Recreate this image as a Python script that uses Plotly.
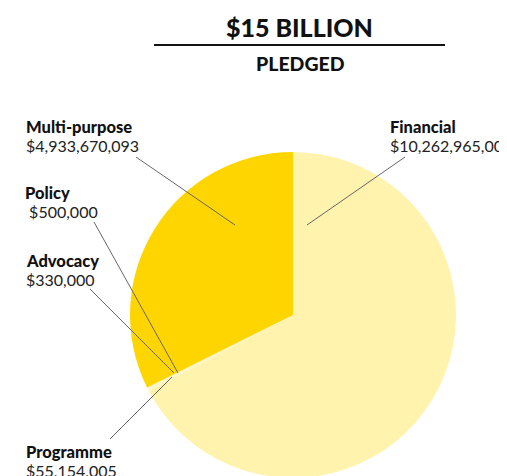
import plotly.graph_objects as go

W, H = 507, 476
OFF = 8  # page body margin

labels = ['Financial', 'Programme', 'Advocacy', 'Policy', 'Multi-purpose']
values = [10262965000, 55154005, 330000, 500000, 4933670093]
value_text = ['$10,262,965,000', '$55,154,005', '$330,000', ' $500,000', '$4,933,670,093']
colors = ['#FFF3AE', '#FFF6C4', '#FFE680', '#FFDD40', '#FFD500']

# label block positions (window pixels, name line centre) and leader lines
label_pos = {
    'Financial': (391, 127),
    'Programme': (27, 452),
    'Advocacy': (27, 261),
    'Policy': (26, 193),
    'Multi-purpose': (27, 127),
}
leaders = {
    'Financial': ((405, 157), (307, 225)),
    'Programme': ((110, 439), (172, 377)),
    'Advocacy': ((90, 289), (174, 373)),
    'Policy': ((94, 222), (178, 373)),
    'Multi-purpose': ((136, 157), (235, 225)),
}


def px(x):
    return (x - OFF) / W


def py(y):
    return 1 - (y - OFF) / H


fig = go.Figure(go.Pie(
    labels=labels,
    values=values,
    sort=False,
    direction='clockwise',
    rotation=0,
    marker=dict(colors=colors, line=dict(width=0)),
    textinfo='none',
    hoverinfo='label+value',
    showlegend=False,
    domain=dict(x=[px(130), px(456)], y=[py(478), py(152)]),
))

annotations = [
    dict(text='$15 BILLION', x=px(299), y=py(27), xref='paper', yref='paper',
         showarrow=False, xanchor='center', yanchor='middle',
         font=dict(family='Lato', size=25, color='#111111', weight=900)),
    dict(text='PLEDGED', x=px(300), y=py(63), xref='paper', yref='paper',
         showarrow=False, xanchor='center', yanchor='middle',
         font=dict(family='Lato', size=19.5, color='#111111', weight=900)),
]
for i, name in enumerate(labels):
    lx, ly = label_pos[name]
    annotations.append(dict(
        text=name, x=px(lx), y=py(ly), xref='paper', yref='paper',
        showarrow=False, xanchor='left', yanchor='middle', xshift=-3,
        font=dict(family='Lato', size=16.5, color='#111111', weight=900)))
    annotations.append(dict(
        text=value_text[i], x=px(lx), y=py(ly + 18), xref='paper', yref='paper',
        showarrow=False, xanchor='left', yanchor='middle', xshift=-3,
        font=dict(family='Lato', size=16, color='#222222', weight=400)))

shapes = [dict(type='line', xref='paper', yref='paper',
               x0=px(154), x1=px(445), y0=py(45), y1=py(45),
               line=dict(color='#111111', width=2))]
for name, ((x0, y0), (x1, y1)) in leaders.items():
    shapes.append(dict(type='line', xref='paper', yref='paper',
                       x0=px(x0), y0=py(y0), x1=px(x1), y1=py(y1),
                       line=dict(color='#666666', width=1)))

fig.update_layout(
    width=W, height=H,
    margin=dict(l=0, r=0, t=0, b=0),
    paper_bgcolor='white',
    plot_bgcolor='white',
    annotations=annotations,
    shapes=shapes,
)

fig.write_html('out.html')
